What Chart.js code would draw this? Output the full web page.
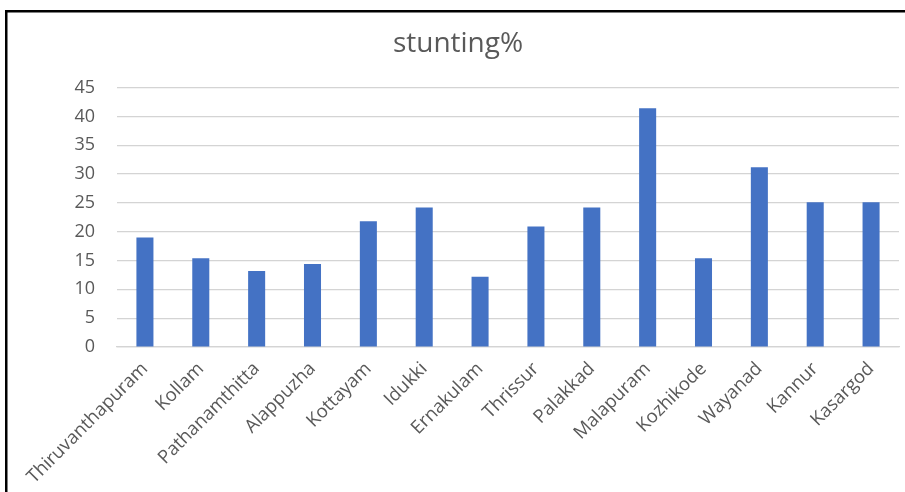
<!DOCTYPE html>
<html>
<head>
<meta charset="utf-8">
<script src="https://cdn.jsdelivr.net/npm/chart.js@4.4.0/dist/chart.umd.min.js"></script>
<style>
  html, body { margin: 0; padding: 0; background: #ffffff; }
  #wrap { position: relative; width: 905px; height: 492px; }
  canvas { display: block; }
</style>
</head>
<body>
<div id="wrap"><canvas id="c" width="905" height="492"></canvas></div>
<script>
const chartTitle = "stunting%";
const districts = ["Thiruvanthapuram", "Kollam", "Pathanamthitta", "Alappuzha", "Kottayam", "Idukki", "Ernakulam", "Thrissur", "Palakkad", "Malapuram", "Kozhikode", "Wayanad", "Kannur", "Kasargod"];
const stunting = [19.0, 15.4, 13.2, 14.4, 21.8, 24.2, 12.2, 20.9, 24.2, 41.4, 15.4, 31.2, 25.1, 25.1];
const yMin = 0;
const yMax = 45;
const yStep = 5;

const framePlugin = {
  id: 'frame',
  afterDraw(chart) {
    const ctx = chart.ctx;
    ctx.save();
    ctx.fillStyle = '#000000';
    ctx.fillRect(5, 10, 900, 2.5);
    ctx.fillRect(5, 10, 2.5, 482);
    ctx.restore();
  }
};

new Chart(document.getElementById('c'), {
  type: 'bar',
  data: {
    labels: districts,
    datasets: [{
      label: chartTitle,
      data: stunting,
      backgroundColor: '#4472C4',
      borderWidth: 0,
      categoryPercentage: 1,
      barPercentage: 0.305
    }]
  },
  options: {
    responsive: false,
    animation: false,
    layout: { padding: { left: 17, right: 6, top: 0, bottom: 0 } },
    plugins: {
      legend: { display: false },
      tooltip: { enabled: false },
      title: {
        display: true,
        text: chartTitle,
        color: '#595959',
        font: { family: 'Open Sans', size: 28, weight: 'normal', lineHeight: 1.2 },
        padding: { top: 27, bottom: 27 }
      }
    },
    scales: {
      x: {
        grid: { display: false, drawTicks: false },
        border: { display: true, color: '#d4d4d4', width: 1.2 },
        ticks: {
          color: '#595959',
          font: { family: 'Open Sans', size: 18.5 },
          minRotation: 45,
          maxRotation: 45,
          autoSkip: false,
          padding: 11
        },
        afterFit(scale) { scale.height = 145; }
      },
      y: {
        min: yMin,
        max: yMax,
        grid: { color: '#d4d4d4', lineWidth: 1.2, drawTicks: false },
        border: { display: false },
        ticks: {
          stepSize: yStep,
          color: '#595959',
          font: { family: 'Open Sans', size: 18 },
          padding: 22
        },
        afterFit(scale) { scale.width = 100; }
      }
    }
  },
  plugins: [framePlugin]
});
</script>
</body>
</html>
